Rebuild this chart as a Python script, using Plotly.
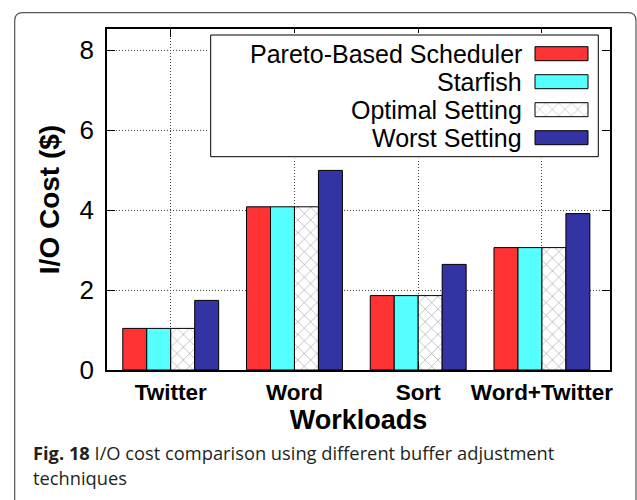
import plotly.graph_objects as go

# ---- data ----
categories = ["Twitter", "Word", "Sort", "Word+Twitter"]
series_names = ["Pareto-Based Scheduler", "Starfish", "Optimal Setting", "Worst Setting"]
pareto = [1.04, 4.08, 1.86, 3.06]
starfish = [1.04, 4.08, 1.86, 3.06]
optimal = [1.04, 4.08, 1.86, 3.06]
worst = [1.74, 4.99, 2.64, 3.91]
y_ticks = [0, 2, 4, 6, 8]

# ---- styles ----
W, H = 637, 500
ML, MR, MT, MB = 107, 27, 29, 130
PW, PH = W - ML - MR, H - MT - MB
FONT = "Liberation Sans, Arial, Helvetica, sans-serif"
CAP_FONT = "Open Sans, Noto Sans, sans-serif"
colors = ["#FF3333", "#55FFFF", "#FFFFFF", "#3333A3"]
patterns = ["", "", "x", ""]
pat_style = dict(fgcolor="black", bgcolor="white", size=9, solidity=0.1)


def px2x(px):
    return (px - ML) / PW


def px2y(py):
    return (MT + PH - py) / PH


fig = go.Figure()
for name, vals, col, pat in zip(series_names, [pareto, starfish, optimal, worst], colors, patterns):
    fig.add_trace(go.Bar(
        name=name, x=categories, y=vals,
        marker=dict(color=col, line=dict(color="black", width=1),
                    pattern=dict(shape=pat, **pat_style)),
        showlegend=False, hoverinfo="skip",
    ))

# ---- custom legend (text left, swatch right) on its own small axes ----
box_l, box_r, box_t, box_b = 210.7, 598.3, 35.0, 156.7
row0, row_step = 53.7, 28.0
pad = 2
n = len(series_names)
fig.add_trace(go.Bar(
    orientation="h", y=series_names, x=[53] * n, base=[535 - box_l] * n, width=0.5,
    marker=dict(color=colors, line=dict(color="black", width=1),
                pattern=dict(shape=patterns, **pat_style)),
    xaxis="x2", yaxis="y2", showlegend=False, hoverinfo="skip",
))
for nm in series_names:
    fig.add_annotation(x=524 - box_l, y=nm, xref="x2", yref="y2", text=nm, showarrow=False,
                       xanchor="right", yanchor="middle", font=dict(family=FONT, size=25, color="black"))
fig.add_shape(type="rect", xref="x2", yref="y2", x0=0, x1=box_r - box_l,
              y0=(box_t - row0) / row_step, y1=(n - 1) + (box_b - (row0 + (n - 1) * row_step)) / row_step,
              line=dict(color="black", width=1), fillcolor="white", layer="between")

# outer rounded frame of the figure card
fl, ft, fr, rad = 14.7, 12.7, 636.0, 8
path = (f"M {px2x(fl)},{px2y(510)} L {px2x(fl)},{px2y(ft + rad)} "
        f"Q {px2x(fl)},{px2y(ft)} {px2x(fl + rad)},{px2y(ft)} "
        f"L {px2x(fr - rad)},{px2y(ft)} Q {px2x(fr)},{px2y(ft)} {px2x(fr)},{px2y(ft + rad)} "
        f"L {px2x(fr)},{px2y(510)}")
fig.add_shape(type="path", path=path, xref="paper", yref="paper",
              line=dict(color="#555555", width=1.2))

# caption
fig.add_annotation(x=px2x(31), y=px2y(452), xref="paper", yref="paper", showarrow=False,
                   xanchor="left", yanchor="middle",
                   text="<b>Fig. 18</b> I/O cost comparison using different buffer adjustment",
                   font=dict(family=CAP_FONT, size=18.3, color="#231F20"))
fig.add_annotation(x=px2x(31), y=px2y(477), xref="paper", yref="paper", showarrow=False,
                   xanchor="left", yanchor="middle", text="techniques",
                   font=dict(family=CAP_FONT, size=18.3, color="#231F20"))

axis_common = dict(showline=True, linecolor="black", linewidth=1.5, mirror="ticks",
                   ticks="inside", ticklen=8, tickcolor="black", tickwidth=1,
                   showgrid=True, gridcolor="#444444", griddash="1px,2px", gridwidth=1,
                   zeroline=False)

fig.update_layout(
    width=W, height=H, margin=dict(l=ML, r=MR, t=MT, b=MB),
    paper_bgcolor="white", plot_bgcolor="white",
    barmode="group", bargap=0.225, bargroupgap=0,
    font=dict(family=FONT, color="black"),
    xaxis=dict(**axis_common, type="category", range=[-0.515, 3.55],
               tickfont=dict(family=FONT, size=22.5, color="black", weight="bold"),
               ticklabelstandoff=1,
               title=dict(text="<b>Workloads</b>", font=dict(family=FONT, size=27), standoff=1)),
    yaxis=dict(**axis_common, range=[0, 8.525], tickvals=y_ticks,
               tickfont=dict(family=FONT, size=26, color="black"),
               ticklabelstandoff=6,
               title=dict(text="<b>I/O Cost ($)</b>", font=dict(family=FONT, size=28), standoff=12)),
    xaxis2=dict(domain=[px2x(box_l - pad), px2x(box_r + pad)], range=[-pad, box_r - box_l + pad],
                anchor="y2", visible=False, fixedrange=True),
    yaxis2=dict(domain=[px2y(box_b + pad), px2y(box_t - pad)], type="category",
                categoryorder="array", categoryarray=series_names,
                range=[(n - 1) + (box_b + pad - (row0 + (n - 1) * row_step)) / row_step,
                       (box_t - pad - row0) / row_step],
                anchor="x2", visible=False, fixedrange=True),
)

fig.write_html("out.html")
